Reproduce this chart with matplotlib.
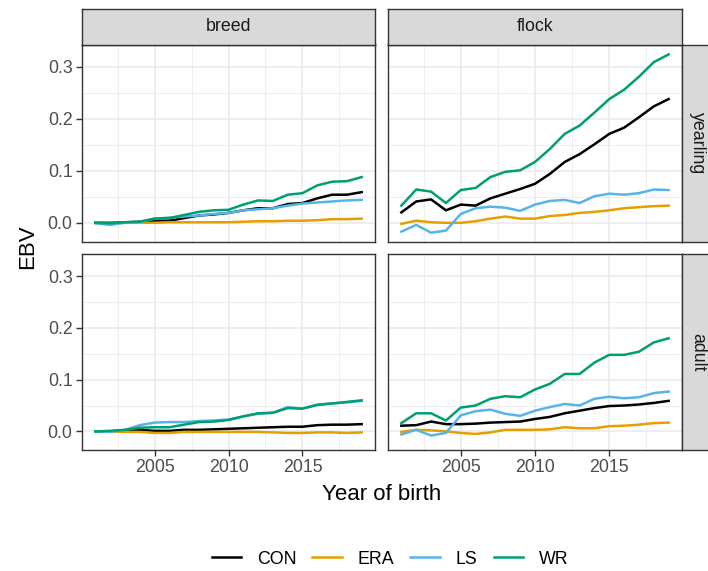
import numpy as np
import matplotlib
matplotlib.use("Agg")
import matplotlib.pyplot as plt

plt.rcParams['font.family'] = ['Liberation Sans', 'DejaVu Sans']

years = np.arange(2001, 2020)
lines = ["CON", "ERA", "LS", "WR"]
colors = {"CON": "#000000", "ERA": "#E69F00", "LS": "#56B4E9", "WR": "#009E73"}

# breed / yearling
breed_yearling = {
    "CON": [0.000, 0.000, 0.001, 0.002, 0.004, 0.004, 0.009, 0.014, 0.016, 0.019,
            0.024, 0.028, 0.028, 0.036, 0.038, 0.047, 0.054, 0.054, 0.059],
    "ERA": [0.000, 0.000, 0.000, 0.000, 0.000, 0.001, 0.001, 0.001, 0.001, 0.001,
            0.002, 0.003, 0.003, 0.004, 0.004, 0.005, 0.007, 0.007, 0.008],
    "LS": [-0.001, -0.004, 0.000, 0.002, 0.008, 0.010, 0.012, 0.014, 0.017, 0.019,
           0.024, 0.026, 0.028, 0.033, 0.037, 0.039, 0.041, 0.043, 0.044],
    "WR": [0.000, -0.001, 0.001, 0.002, 0.008, 0.009, 0.015, 0.021, 0.024, 0.025,
           0.035, 0.043, 0.042, 0.054, 0.057, 0.072, 0.079, 0.080, 0.088],
}
# flock / yearling
flock_yearling = {
    "CON": [0.020, 0.041, 0.045, 0.024, 0.035, 0.033, 0.047, 0.056, 0.065, 0.075,
            0.094, 0.117, 0.132, 0.151, 0.171, 0.183, 0.203, 0.224, 0.238],
    "ERA": [-0.002, 0.004, 0.001, 0.000, 0.000, 0.003, 0.008, 0.012, 0.008, 0.008,
            0.013, 0.015, 0.019, 0.021, 0.024, 0.028, 0.030, 0.032, 0.033],
    "LS": [-0.017, -0.004, -0.019, -0.015, 0.017, 0.028, 0.031, 0.029, 0.023, 0.035,
           0.042, 0.044, 0.038, 0.051, 0.056, 0.054, 0.057, 0.064, 0.063],
    "WR": [0.033, 0.064, 0.060, 0.038, 0.063, 0.067, 0.088, 0.098, 0.101, 0.117,
           0.142, 0.171, 0.187, 0.212, 0.238, 0.256, 0.281, 0.309, 0.324],
}
# breed / adult
breed_adult = {
    "CON": [0.000, 0.000, 0.002, 0.003, 0.001, 0.001, 0.003, 0.003, 0.004, 0.005,
            0.006, 0.007, 0.008, 0.009, 0.009, 0.012, 0.013, 0.013, 0.014],
    "ERA": [0.000, 0.000, -0.001, -0.001, -0.003, -0.003, -0.001, -0.001, -0.001, -0.001,
            -0.001, -0.001, -0.002, -0.003, -0.003, -0.002, -0.002, -0.003, -0.002],
    "LS": [0.000, -0.001, 0.003, 0.012, 0.017, 0.018, 0.018, 0.020, 0.021, 0.023,
           0.029, 0.034, 0.036, 0.047, 0.044, 0.052, 0.054, 0.056, 0.059],
    "WR": [0.000, 0.001, 0.003, 0.007, 0.008, 0.008, 0.013, 0.018, 0.019, 0.022,
           0.029, 0.035, 0.036, 0.045, 0.044, 0.051, 0.054, 0.057, 0.060],
}
# flock / adult
flock_adult = {
    "CON": [0.011, 0.012, 0.019, 0.014, 0.014, 0.015, 0.017, 0.018, 0.019, 0.024,
            0.028, 0.035, 0.040, 0.045, 0.049, 0.050, 0.052, 0.055, 0.059],
    "ERA": [-0.001, 0.003, 0.002, 0.000, -0.003, -0.005, -0.002, 0.003, 0.003, 0.003,
            0.004, 0.008, 0.006, 0.006, 0.010, 0.011, 0.013, 0.016, 0.017],
    "LS": [-0.006, 0.003, -0.008, -0.003, 0.031, 0.039, 0.042, 0.034, 0.030, 0.040,
           0.047, 0.053, 0.050, 0.063, 0.067, 0.064, 0.066, 0.074, 0.077],
    "WR": [0.016, 0.035, 0.035, 0.021, 0.046, 0.050, 0.063, 0.068, 0.066, 0.081,
           0.092, 0.111, 0.111, 0.133, 0.148, 0.148, 0.154, 0.172, 0.180],
}

col_names = ["breed", "flock"]
row_names = ["yearling", "adult"]
panels = [[breed_yearling, flock_yearling], [breed_adult, flock_adult]]

W, H = 708, 571
fig = plt.figure(figsize=(W / 100, H / 100), dpi=100)


def rect(x0, y0, x1, y1):
    # pixel box (top-left origin) -> figure fraction
    return [x0 / W, 1 - y1 / H, (x1 - x0) / W, (y1 - y0) / H]


col_x = [(82, 375), (388, 682)]
row_y = [(44.5, 241.5), (254, 450)]
edge = "#333333"
small = 12.8
big = 16

for r in range(2):
    for c in range(2):
        x0, x1 = col_x[c]
        y0, y1 = row_y[r]
        ax = fig.add_axes(rect(x0, y0, x1, y1))
        data = panels[r][c]
        for k in lines:
            ax.plot(years, data[k], color=colors[k], lw=1.8, label=k)
        ax.set_xlim(2001 - 0.9, 2019 + 0.9)
        ax.set_ylim(-0.036, 0.343)
        ax.set_xticks([2005, 2010, 2015])
        ax.set_xticks([2002.5, 2007.5, 2012.5, 2017.5], minor=True)
        ax.set_yticks([0.0, 0.1, 0.2, 0.3])
        ax.set_yticks([0.05, 0.15, 0.25], minor=True)
        ax.grid(which="major", color="#EBEBEB", lw=1.2)
        ax.grid(which="minor", color="#EBEBEB", lw=0.6)
        ax.set_axisbelow(True)
        for s in ax.spines.values():
            s.set_color(edge)
            s.set_linewidth(1.0)
        ax.tick_params(which="minor", length=0)
        ax.tick_params(which="major", length=4.3, width=1, color=edge,
                       labelsize=small, labelcolor="#4D4D4D", pad=2.5)
        if c == 0:
            ax.set_yticklabels(["0.0", "0.1", "0.2", "0.3"])
        else:
            ax.tick_params(axis="y", left=False, labelleft=False)
        if r == 1:
            ax.set_xticklabels(["2005", "2010", "2015"])
        else:
            ax.tick_params(axis="x", bottom=False, labelbottom=False)
        if r == 0 and c == 0:
            handles, labels = ax.get_legend_handles_labels()

        # top strip
        if r == 0:
            sa = fig.add_axes(rect(x0, 8.5, x1, 44.5))
            sa.set_facecolor("#D9D9D9")
            sa.set_xticks([])
            sa.set_yticks([])
            for s in sa.spines.values():
                s.set_color(edge)
                s.set_linewidth(1.0)
            sa.text(0.5, 0.5, col_names[c], ha="center", va="center",
                    fontsize=small, color="#1A1A1A", transform=sa.transAxes)
        # right strip
        if c == 1:
            sa = fig.add_axes(rect(682, y0, 716, y1))
            sa.set_facecolor("#D9D9D9")
            sa.set_xticks([])
            sa.set_yticks([])
            for s in sa.spines.values():
                s.set_color(edge)
                s.set_linewidth(1.0)
            sa.text(0.45, 0.5, row_names[r], ha="center", va="center",
                    rotation=-90, fontsize=small, color="#1A1A1A",
                    transform=sa.transAxes)

fig.text(28 / W, 1 - 247 / H, "EBV", rotation=90, ha="center", va="center",
         fontsize=big, color="black")
fig.text(382 / W, 1 - 494 / H, "Year of birth", ha="center", va="center",
         fontsize=big, color="black")

fig.legend(handles, labels, loc="center", bbox_to_anchor=(390 / W, 1 - 559 / H),
           ncol=4, frameon=False, fontsize=small, handlelength=1.65,
           handletextpad=0.9, columnspacing=0.9)

fig.savefig("out.png", dpi=100)
